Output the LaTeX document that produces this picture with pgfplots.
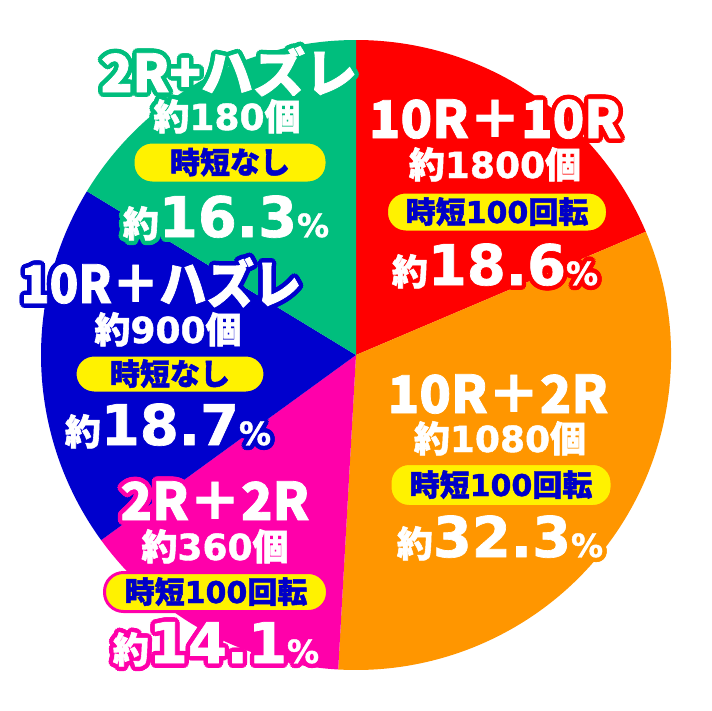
\documentclass[border=0pt]{standalone}
\usepackage{pgfplots}
\pgfplotsset{compat=1.18}
\usepackage{pgfplotstable}
\usepackage{fontspec}
\setmainfont{Noto Sans CJK JP}[BoldFeatures={FakeBold=1.5}]
\newfontfamily\dv{DejaVu Sans}[BoldFeatures={FakeBold=1.2}]

\definecolor{s0}{RGB}{255,0,0}
\definecolor{s1}{RGB}{255,150,0}
\definecolor{s2}{RGB}{255,0,170}
\definecolor{s3}{RGB}{0,0,205}
\definecolor{s4}{RGB}{0,190,125}
\definecolor{boxblue}{RGB}{0,0,200}

% shares, clockwise from the top
\pgfplotstableread{
pct
18.6
32.3
14.1
18.7
16.3
}\piedata

\def\acc{90}
\pgfplotsforeachungrouped \i in {0,...,4}{%
  \pgfplotstablegetelem{\i}{pct}\of\piedata
  \expandafter\xdef\csname sa\i\endcsname{\acc}%
  \pgfmathsetmacro\acc{\acc-3.6*\pgfplotsretval}%
  \expandafter\xdef\csname ea\i\endcsname{\acc}%
}

% white text with a coloured rim
\newcommand\olab[4]{%
  \pgfplotsinvokeforeach{0,22.5,...,337.5}{%
    \node[text=#1,inner sep=0pt,anchor=base] at ([shift={(##1:4.5pt)}]axis cs:#2,#3) {#4};}
  \node[text=white,inner sep=0pt,anchor=base] at (axis cs:#2,#3) {#4};
}
\newcommand\pill[6]{% colour, x, y, w, h, text
  \node[fill=yellow,draw=#1,line width=3pt,rounded corners=19pt,
        minimum width=#4pt,minimum height=#5pt,inner sep=0pt] at (axis cs:#2,#3) {};
  \node[text=boxblue,inner sep=0pt,anchor=base] at (axis cs:#2,#3+11)
       {\bfseries\fontsize{30}{30}\selectfont #6};
}
\newcommand\pctN[1]{\fontsize{56}{56}\selectfont\dv\bfseries #1}
\newcommand\midN[1]{\fontsize{36}{36}\selectfont\bfseries #1}
\newcommand\ttlN[1]{\fontsize{52}{52}\selectfont\bfseries #1}
\newcommand\pc{{\fontsize{32}{32}\selectfont\dv\bfseries\%}}

\begin{document}
\begin{tikzpicture}
\begin{axis}[
  scale only axis, width=712pt, height=710pt,
  xmin=0, xmax=712, ymin=0, ymax=710, y dir=reverse,
  hide axis, clip=false
]
\fill[white] (axis cs:0,0) rectangle (axis cs:712,710);
\pgfplotsinvokeforeach{0,...,4}{%
  \edef\tmp{\noexpand\fill[s#1] (axis cs:356,355) -- ++(\csname sa#1\endcsname:315pt)
    arc[start angle=\csname sa#1\endcsname, end angle=\csname ea#1\endcsname, radius=315pt] -- cycle;}\tmp
}

% 10R+10R
\olab{s0}{495}{138}{\ttlN{10R＋10R}}
\olab{s0}{495}{178}{\midN{約{\dv 1800}個}}
\pill{s0}{497}{212}{221}{40}{時短{\dv 100}回転}
\olab{s0}{495}{285}{\midN{約}\pctN{18.6}\pc}

% 10R+2R
\olab{s1}{498}{413}{\ttlN{10R＋2R}}
\olab{s1}{500}{452}{\midN{約{\dv 1080}個}}
\pill{s1}{501}{485}{222}{43}{時短{\dv 100}回転}
\olab{s1}{500}{557}{\midN{約}\pctN{32.3}\pc}

% 2R+2R
\olab{s2}{215}{520}{\ttlN{2R＋2R}}
\olab{s2}{215}{560}{\midN{約{\dv 360}個}}
\pill{s2}{216}{592}{223}{39}{時短{\dv 100}回転}
\olab{s2}{216}{663}{\midN{約}\pctN{14.1}\pc}

% 10R+hazure
\olab{s3}{161}{303}{\scalebox{0.91}[1]{\ttlN{10R＋ハズレ}}}
\olab{s3}{168}{343}{\midN{約{\dv 900}個}}
\pill{s3}{170}{374}{190}{38}{時短なし}
\olab{s3}{168}{445}{\midN{約}\pctN{18.7}\pc}

% 2R+hazure
\olab{s4}{229}{92}{\ttlN{2R+ハズレ}}
\olab{s4}{227}{130}{\midN{約{\dv 180}個}}
\pill{s4}{230}{162.5}{194}{41}{時短なし}
\olab{s4}{226}{237}{\midN{約}\pctN{16.3}\pc}
\end{axis}
\pgfresetboundingbox
\path (current axis.south west) rectangle (current axis.north east);
\end{tikzpicture}
\end{document}
